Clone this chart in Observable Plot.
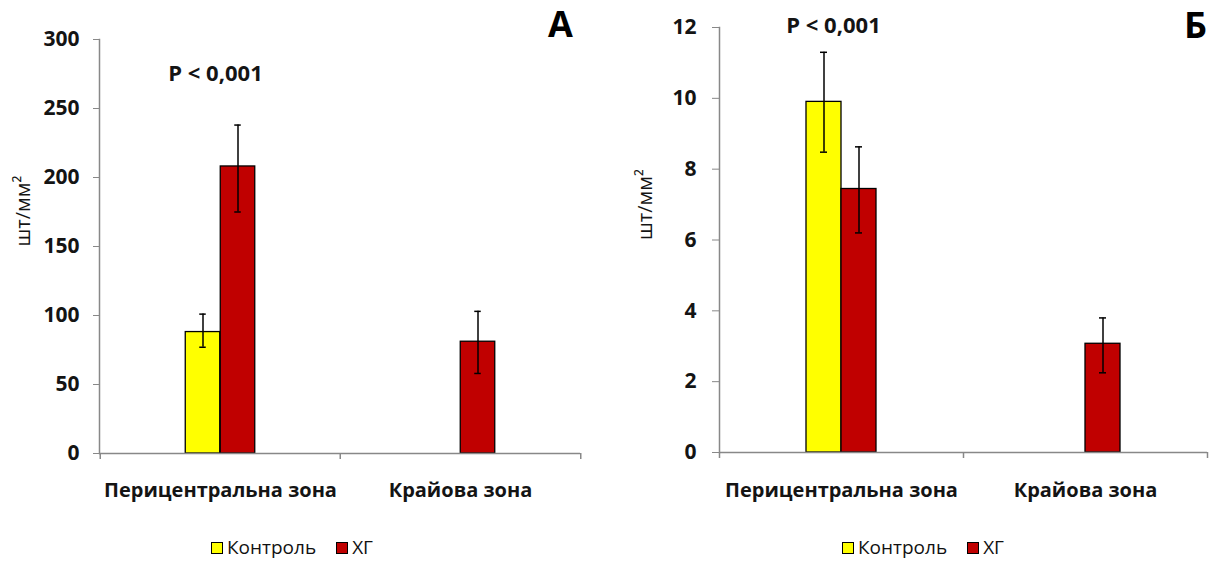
<!DOCTYPE html>
<html><head><meta charset="utf-8">
<script src="https://cdn.jsdelivr.net/npm/d3@7"></script>
<script src="https://cdn.jsdelivr.net/npm/@observablehq/plot@0.6"></script>
<style>
body{margin:0;background:#fff;font-family:"Open Sans",sans-serif;}
#wrap{position:relative;width:1209px;height:562px;overflow:hidden;background:#fff}
.panel{position:absolute;top:0}
.legend{position:absolute;display:flex;align-items:center;font-size:19px;color:#111;white-space:nowrap;line-height:1}
.sw{width:10px;height:10px;border:1px solid #000;display:inline-block;margin-right:4px}
.item{display:flex;align-items:center}
</style></head><body><div id="wrap"></div><script>
// categories and series
const zones = ["Перицентральна зона", "Крайова зона"];
const series = ["Контроль", "ХГ"];
const colors = ["#ffff00", "#c00000"];

// Panel А values (шт/мм²)
const aControl   = [88, null];
const aControlLo = [77, null];
const aControlHi = [101, null];
const aHG   = [208, 81];
const aHGLo = [175, 58];
const aHGHi = [238, 103];
const aTicks = [0, 50, 100, 150, 200, 250, 300];

// Panel Б values (шт/мм²)
const bControl   = [9.9, null];
const bControlLo = [8.48, null];
const bControlHi = [11.3, null];
const bHG   = [7.44, 3.07];
const bHGLo = [6.2, 2.25];
const bHGHi = [8.63, 3.8];
const bTicks = [0, 2, 4, 6, 8, 10, 12];

const yLabel = "шт/мм²";
const pLabel = "P < 0,001";

function rows(vals, lo, hi) {
  return zones.map((z, i) => ({zone: z, value: vals[i], lo: lo[i], hi: hi[i]})).filter(d => d.value != null);
}

const gray = "#888888";
const ink = "#141414";

function panel(cfg) {
  const band = (cfg.width - cfg.marginLeft - cfg.marginRight) / zones.length;
  const barW = 35, capW = 7;
  const inset = (band - barW) / 2, capInset = (band - capW) / 2;
  const groups = [
    {data: rows(cfg.c, cfg.cLo, cfg.cHi), dx: -barW / 2, fill: colors[0]},
    {data: rows(cfg.h, cfg.hLo, cfg.hHi), dx: barW / 2, fill: colors[1]}
  ];
  const marks = [];
  for (const g of groups) {
    marks.push(Plot.barY(g.data, {x: "zone", y1: 0, y2: "value", fill: g.fill, stroke: "#000", strokeWidth: 1.3, dx: g.dx, insetLeft: inset, insetRight: inset}));
  }
  marks.push(Plot.ruleY([0], {stroke: gray, strokeWidth: 1.5}));
  marks.push(Plot.frame({anchor: "left", stroke: gray, strokeWidth: 1.5}));
  for (const g of groups) {
    marks.push(Plot.ruleX(g.data, {x: "zone", y1: "lo", y2: "hi", dx: g.dx, stroke: "#000", strokeWidth: 1.5}));
    marks.push(Plot.tickY(g.data, {x: "zone", y: "lo", dx: g.dx, insetLeft: capInset, insetRight: capInset, stroke: "#000", strokeWidth: 1.5}));
    marks.push(Plot.tickY(g.data, {x: "zone", y: "hi", dx: g.dx, insetLeft: capInset, insetRight: capInset, stroke: "#000", strokeWidth: 1.5}));
  }
  marks.push(Plot.axisY({ticks: cfg.ticks, tickSize: cfg.tickSize, tickPadding: cfg.tickPadding, stroke: gray, fill: ink, fontSize: 21, fontWeight: "bold", label: null, tickFormat: d => String(d)}));
  marks.push(Plot.axisX({tickSize: 0, tickPadding: cfg.xPad, fill: ink, fontSize: 20, fontWeight: "bold", label: null}));
  marks.push(Plot.axisX({tickSize: 6, tickFormat: () => "", dx: -band / 2, stroke: gray, strokeWidth: 1.5, label: null}));
  marks.push(Plot.axisX({ticks: [zones[zones.length - 1]], tickSize: 6, tickFormat: () => "", dx: band / 2, stroke: gray, strokeWidth: 1.5, label: null}));
  marks.push(Plot.text([pLabel], {text: d => d, x: () => zones[0], frameAnchor: "top", dx: cfg.pdx, dy: cfg.pdy, fontSize: 22, fontWeight: "bold", fill: ink, lineAnchor: "middle"}));
  marks.push(Plot.text([cfg.letter], {text: d => d, frameAnchor: "top-right", dx: cfg.ldx, dy: cfg.ldy, textAnchor: "middle", lineAnchor: "middle", fontSize: 36, fontWeight: "bold", fill: "#000"}));
  marks.push(Plot.text([yLabel], {text: d => d, frameAnchor: "left", dx: cfg.ylx, rotate: -90, fontSize: 20, fill: ink, lineAnchor: "middle"}));
  return Plot.plot({
    width: cfg.width, height: 520,
    marginLeft: cfg.marginLeft, marginRight: cfg.marginRight,
    marginTop: cfg.marginTop, marginBottom: cfg.marginBottom,
    x: {domain: zones, padding: 0, axis: null},
    y: {domain: [0, cfg.ticks[cfg.ticks.length - 1]], axis: null},
    style: {fontFamily: "'Open Sans', sans-serif", overflow: "visible", background: "#fff"},
    marks
  });
}

function legend(left, top) {
  const el = document.createElement("div");
  el.className = "legend";
  el.style.left = left + "px";
  el.style.top = top + "px";
  series.forEach((s, i) => {
    const it = document.createElement("span");
    it.className = "item";
    if (i > 0) it.style.marginLeft = "20px";
    const sw = document.createElement("span");
    sw.className = "sw";
    sw.style.background = colors[i];
    const t = document.createElement("span");
    t.textContent = s;
    it.appendChild(sw); it.appendChild(t);
    el.appendChild(it);
  });
  return el;
}

const wrap = document.getElementById("wrap");

const left = document.createElement("div");
left.className = "panel"; left.style.left = "0px";
left.appendChild(panel({
  width: 605, marginLeft: 99, marginRight: 25, marginTop: 39, marginBottom: 67,
  c: aControl, cLo: aControlLo, cHi: aControlHi, h: aHG, hLo: aHGLo, hHi: aHGHi,
  ticks: aTicks, tickSize: 6, tickPadding: 14, xPad: 29,
  pdx: -5, pdy: 34, letter: "А", ldx: -20, ldy: -14, ylx: -76
}));
wrap.appendChild(left);

const right = document.createElement("div");
right.className = "panel"; right.style.left = "605px";
right.appendChild(panel({
  width: 604, marginLeft: 114, marginRight: 2, marginTop: 27, marginBottom: 68,
  c: bControl, cLo: bControlLo, cHi: bControlHi, h: bHG, hLo: bHGLo, hHi: bHGHi,
  ticks: bTicks, tickSize: 7, tickPadding: 16, xPad: 30,
  pdx: -8, pdy: -2, letter: "Б", ldx: -12, ldy: -1, ylx: -74
}));
wrap.appendChild(right);

wrap.appendChild(legend(211, 538));
wrap.appendChild(legend(842, 538));
</script></body></html>
